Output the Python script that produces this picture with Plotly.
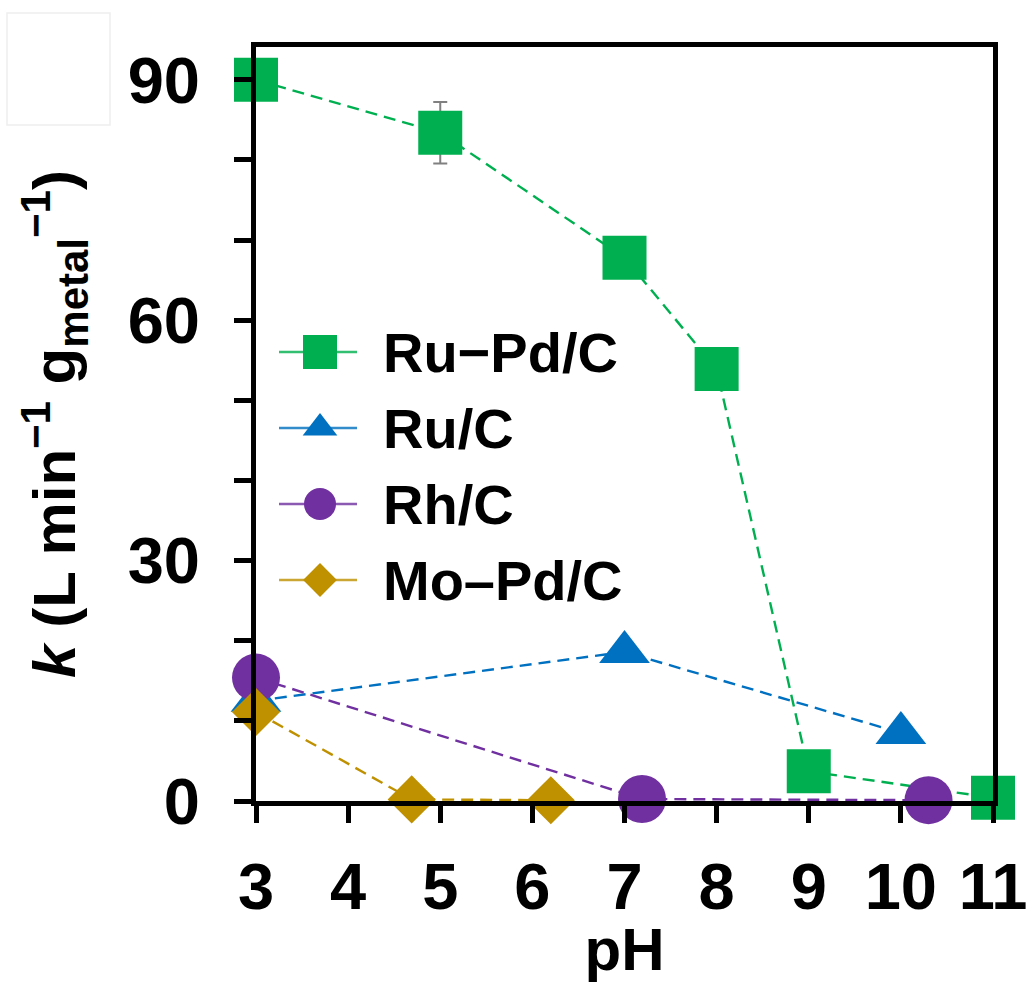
import plotly.graph_objects as go

# ---------------- data ----------------
names = ["Ru\u2212Pd/C", "Ru/C", "Rh/C", "Mo\u2013Pd/C"]
colors = ["#00B050", "#0070C0", "#7030A0", "#BF9000"]
symbols = ["square", "triangle-up", "circle", "diamond"]

ph_rupd = [3, 5, 7, 8, 9, 11]
k_rupd = [90.0, 83.4, 67.8, 53.9, 3.7, 0.4]
err_rupd = [0, 3.85, 0, 0, 0, 0]

ph_ru = [3, 7, 10]
k_ru = [12.5, 18.6, 8.5]

ph_rh = [3, 7.19, 10.30]
k_rh = [15.4, 0.25, 0.1]

ph_mopd = [3, 4.69, 6.20]
k_mopd = [11.1, 0.2, 0.1]

x_ticks = [3, 4, 5, 6, 7, 8, 9, 10, 11]
y_ticks = [0, 30, 60, 90]
y_minor_step = 10

# ---------------- styling ----------------
FONT = "Liberation Sans, Arial, sans-serif"
W, H = 1031, 983
PX0, PX1 = 256, 993            # plot area in page pixels
PY1, PY0 = 47, 801
ML, MR = PX0, W - PX1
MT, MB = PY1, H - PY0
sizes = [44, 44, 48, 37]
leg_sizes = [34, 30, 32, 26]

fig = go.Figure()
series = [
    (ph_rupd, k_rupd, err_rupd),
    (ph_ru, k_ru, None),
    (ph_rh, k_rh, None),
    (ph_mopd, k_mopd, None),
]
for i, (xs, ys, err) in enumerate(series):
    kw = {}
    if err is not None:
        kw["error_y"] = dict(type="data", array=err, visible=True,
                             color="#808080", thickness=2, width=7)
    fig.add_trace(go.Scatter(
        x=xs, y=ys, mode="lines+markers", name=names[i],
        line=dict(color=colors[i], width=2.4, dash="12px,7px"),
        marker=dict(symbol=symbols[i], size=sizes[i], color=colors[i],
                    line=dict(width=0)),
        cliponaxis=False, showlegend=False, **kw))

# ---------------- manual legend (pixel overlay axes) ----------------
LEG_X0, LEG_X1, LEG_MX, LEG_TX = 279, 357, 320, 381
LEG_Y0, LEG_DY = 352, 76
for i in range(len(names)):
    yy = LEG_Y0 + i * LEG_DY
    fig.add_trace(go.Scatter(
        x=[LEG_X0, LEG_X1], y=[yy, yy], mode="lines", xaxis="x2", yaxis="y2",
        line=dict(color=colors[i], width=2.4), opacity=0.8,
        showlegend=False, hoverinfo="skip"))
    fig.add_trace(go.Scatter(
        x=[LEG_MX], y=[yy], mode="markers", xaxis="x2", yaxis="y2",
        marker=dict(symbol=symbols[i], size=leg_sizes[i], color=colors[i],
                    line=dict(width=0)),
        showlegend=False, hoverinfo="skip"))
    fig.add_annotation(x=LEG_TX, y=yy, xref="x2", yref="y2", text=names[i],
                       showarrow=False, xanchor="left", yanchor="middle",
                       font=dict(family=FONT, size=56, color="black", weight="bold"))

axis_common = dict(
    showgrid=False, zeroline=False, showline=True, linecolor="black",
    linewidth=5, mirror=True, ticks="outside", tickcolor="black",
    tickwidth=5, ticklen=17, ticklabeloverflow="allow", automargin=False,
    tickfont=dict(family=FONT, size=65, color="black", weight="bold"),
)

fig.update_layout(
    width=W, height=H,
    margin=dict(l=ML, r=MR, t=MT, b=MB, autoexpand=False),
    paper_bgcolor="white", plot_bgcolor="white",
    xaxis=dict(range=[3, 11], tickvals=x_ticks, ticklabelstandoff=8,
               title=dict(text="pH", standoff=3,
                          font=dict(family=FONT, size=60, color="black", weight="bold")),
               **axis_common),
    yaxis=dict(range=[0, 94.1], tickvals=y_ticks, ticklabelstandoff=21,
               minor=dict(dtick=y_minor_step, ticks="outside", ticklen=17,
                          tickwidth=5, tickcolor="black", showgrid=False),
               title=dict(text="<i>k</i> (L min<sup>\u22121</sup> g<sub>metal</sub><sup>\u22121</sup>)",
                          standoff=34,
                          font=dict(family=FONT, size=60, color="black", weight="bold")),
               **axis_common),
    xaxis2=dict(overlaying="x", range=[PX0, PX1], visible=False, automargin=False),
    yaxis2=dict(overlaying="y", range=[PY0, PY1], visible=False, automargin=False),
    shapes=[dict(type="rect", xref="paper", yref="paper",
                 x0=(7 - PX0) / (PX1 - PX0), x1=(110 - PX0) / (PX1 - PX0),
                 y0=(PY0 - 125) / (PY0 - PY1), y1=(PY0 - 13) / (PY0 - PY1),
                 line=dict(color="#eeeeee", width=1.5))],
)

fig.write_html("out.html", config={"displayModeBar": False},
               post_script="document.body.style.margin='0';document.body.style.overflow='hidden';")
